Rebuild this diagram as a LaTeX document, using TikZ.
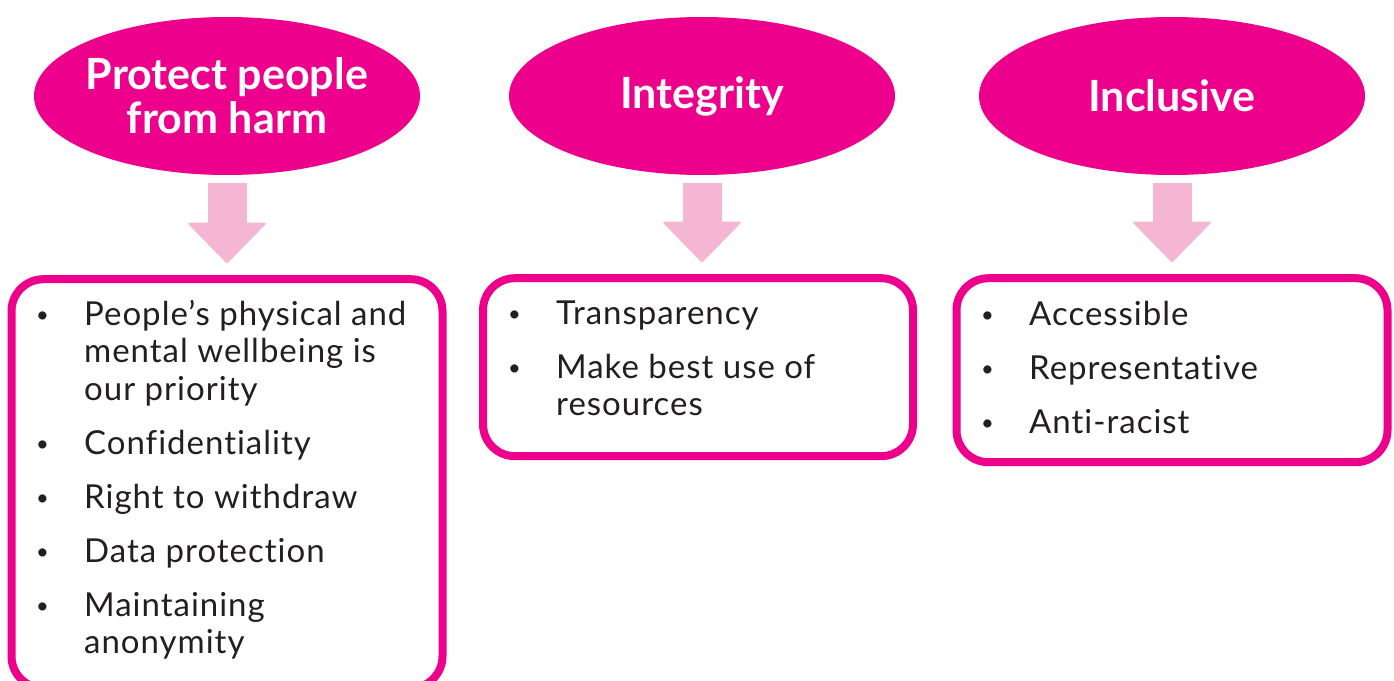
\documentclass[tikz,border=0pt]{standalone}
\usepackage{fontspec}
\setmainfont{Lato}
\newfontfamily\listfont{Lato}[Ligatures={TeX,NoCommon}, LetterSpace=3.0]
\usepackage{tikz}
\usetikzlibrary{shapes.geometric, arrows.meta, positioning}
\definecolor{value-magenta}{HTML}{EC008C}
\definecolor{value-pink}{HTML}{F4B6D2}
\definecolor{value-text}{HTML}{231F20}
% small raised dot in front of each list line
\newcommand{\dotitem}{\raisebox{3pt}{\fontsize{22}{22}\selectfont\textbullet}}

\begin{document}
\begin{tikzpicture}[
    x=1pt, y=-1pt,
    valuehead/.style={ellipse, fill=value-magenta, text=white, inner xsep=-60pt, inner ysep=0pt, minimum width=386pt, minimum height=158pt, align=center, font=\fontsize{43}{44}\selectfont\bfseries},
    listbox/.style={draw=value-magenta, line width=8pt, rounded corners=32pt, minimum width=431pt, inner sep=0pt, outer sep=0pt},
    bullets/.style={anchor=base west, inner sep=0pt, text=value-text, font=\listfont\fontsize{33}{37.5}\selectfont},
    arrow/.style={value-pink, line width=39pt, -{Triangle[width=80pt, length=41pt, round, line width=2pt]}, shorten <=8pt, shorten >=16pt}
]
    \useasboundingbox (0,0) rectangle (1394,680);

    \node[valuehead] (harm) at (227,96) {Protect people\\from harm};
    \node[valuehead] (integ) at (702,96) {Integrity};
    \node[valuehead] (incl) at (1172,96) {Inclusive};

    \node[listbox, minimum height=409pt, below=104pt of harm] (harmbox) {};
    \node[listbox, minimum height=178pt, minimum width=430pt, below=103pt of integ, xshift=-4pt] (integbox) {};
    \node[listbox, minimum height=184pt, below=103pt of incl] (inclbox) {};

    \node[bullets] (harmlist) at (36,325) {\begin{tabular}[t]{@{}p{48pt}@{}l@{}}
        \dotitem & People’s physical and\\
                 & mental wellbeing is\\
                 & our priority\\[16.5pt]
        \dotitem & Confidentiality\\[16.5pt]
        \dotitem & Right to withdraw\\[16.5pt]
        \dotitem & Data protection\\[16.5pt]
        \dotitem & Maintaining\\
                 & anonymity
    \end{tabular}};
    \node[bullets] (integlist) at (508,324) {\begin{tabular}[t]{@{}p{48pt}@{}l@{}}
        \dotitem & Transparency\\[16.5pt]
        \dotitem & Make best use of\\
                 & resources
    \end{tabular}};
    \node[bullets] (incllist) at (981,325) {\begin{tabular}[t]{@{}p{48pt}@{}l@{}}
        \dotitem & Accessible\\[16.5pt]
        \dotitem & Representative\\[16.5pt]
        \dotitem & Anti-racist
    \end{tabular}};

    \draw[arrow] (harm) -- (harmbox);
    \draw[arrow] (integ.south) -- (integ.south |- integbox.north);
    \draw[arrow] (incl) -- (inclbox);
\end{tikzpicture}
\end{document}
